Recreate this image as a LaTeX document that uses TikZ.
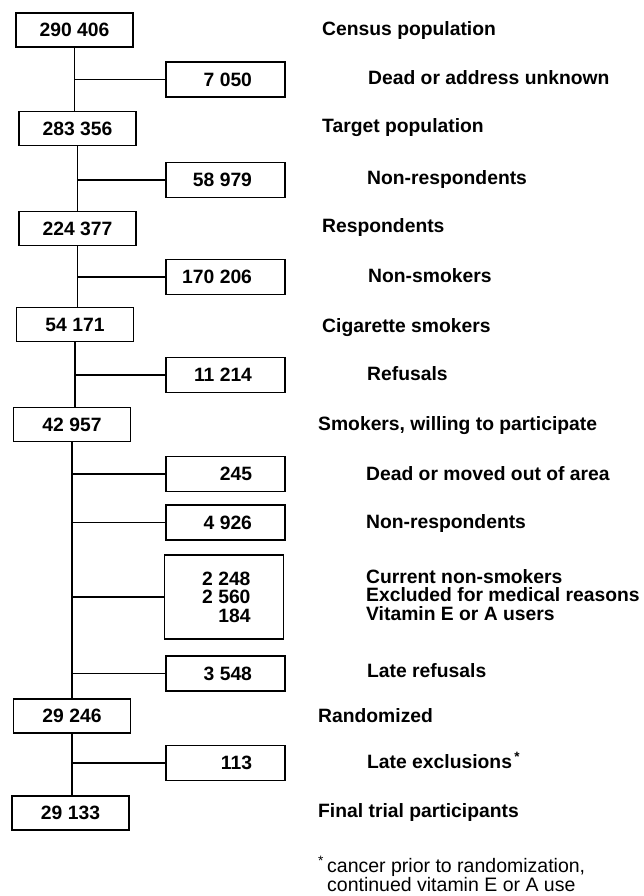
\documentclass[tikz,border=0pt]{standalone}
\usepackage{fontspec}
\setmainfont{Liberation Sans}
\newcommand{\flowfont}{\fontsize{19.3}{18.5}\selectfont}
\newcommand{\rnum}[1]{\makebox[53pt][r]{#1}}
\tikzset{
  mainbox/.style={draw, line width=1.8pt, minimum width=117pt, minimum height=34pt, inner sep=0pt, font=\flowfont\bfseries},
  sidebox/.style={draw, line width=1.8pt, minimum width=119pt, minimum height=35pt, inner sep=0pt, font=\flowfont\bfseries},
  lab/.style={anchor=mid west, inner sep=0pt, yshift=-3pt, font=\flowfont\bfseries},
  link/.style={line width=1.8pt}
}
\begin{document}
\begin{tikzpicture}[x=1pt,y=-1pt]
    \useasboundingbox (0,0) rectangle (643,896);

    % hoofdkolom
    \node[mainbox] (n1) at (74.5,30) {290 406};
    \node[mainbox] (n2) at (77.5,128.5) {283 356};
    \node[mainbox] (n3) at (77.5,228.5) {224 377};
    \node[mainbox] (n4) at (75,324.5) {54 171};
    \node[mainbox] (n5) at (72,424.5) {42 957};
    \node[mainbox] (n6) at (72,716) {29 246};
    \node[mainbox] (n7) at (70.5,813) {29 133};

    % uitvallers
    \node[sidebox] (s1) at (225.5,79.5) {\rnum{7 050}};
    \node[sidebox] (s2) at (225.5,180) {\rnum{58 979}};
    \node[sidebox] (s3) at (225.5,277) {\rnum{170 206}};
    \node[sidebox] (s4) at (225.5,375) {\rnum{11 214}};
    \node[sidebox] (s5) at (225.5,474) {\rnum{245}};
    \node[sidebox] (s6) at (225.5,522.5) {\rnum{4 926}};
    \node[sidebox, minimum height=84pt, align=center] (s7) at (224,597) {\rnum{2 248}\\\rnum{2 560}\\\rnum{184}};
    \node[sidebox] (s8) at (225.5,673.5) {\rnum{3 548}};
    \node[sidebox] (s9) at (225.5,763) {\rnum{113}};

    % verbindingen
    \draw[link] (n1.south) -- (n1.south |- n2.north);
    \draw[link] (n2.south) -- (n2.south |- n3.north);
    \draw[link] (n3.south) -- (n3.south |- n4.north);
    \draw[link] (n4.south) -- (n4.south |- n5.north);
    \draw[link] (n5.south) -- (n5.south |- n6.north);
    \draw[link] (n6.south) -- (n6.south |- n7.north);
    \draw[link] (n1.south |- s1.west) -- (s1.west);
    \draw[link] (n2.south |- s2.west) -- (s2.west);
    \draw[link] (n3.south |- s3.west) -- (s3.west);
    \draw[link] (n4.south |- s4.west) -- (s4.west);
    \draw[link] (n5.south |- s5.west) -- (s5.west);
    \draw[link] (n5.south |- s6.west) -- (s6.west);
    \draw[link] (n5.south |- s7.west) -- (s7.west);
    \draw[link] (n5.south |- s8.west) -- (s8.west);
    \draw[link] (n6.south |- s9.west) -- (s9.west);

    % teksten
    \node[lab] (l1) at (322,30) {Census population};
    \node[lab] (ls1) at (368,79) {Dead or address unknown};
    \node[lab] (l2) at (322,127) {Target population};
    \node[lab] (ls2) at (367,179) {Non-respondents};
    \node[lab] (l3) at (322,227) {Respondents};
    \node[lab] (ls3) at (368,277) {Non-smokers};
    \node[lab] (l4) at (322,327) {Cigarette smokers};
    \node[lab] (ls4) at (367,375) {Refusals};
    \node[lab] (l5) at (318,425) {Smokers, willing to participate};
    \node[lab] (ls5) at (366,475) {Dead or moved out of area};
    \node[lab] (ls6) at (366,523) {Non-respondents};
    \node[lab, anchor=west, align=left] (ls7) at (366,592) {Current non-smokers\\Excluded for medical reasons\\Vitamin E or A users};
    \node[lab] (ls8) at (367,672) {Late refusals};
    \node[lab] (l6) at (318,717) {Randomized};
    \node[lab] (ls9) at (367,763) {Late exclusions\textsuperscript{\,*}};
    \node[lab] (l7) at (318,812) {Final trial participants};
    \node[anchor=west, inner sep=0pt, align=left, font=\fontsize{19.5}{18}\selectfont] (note) at (327,874)
        {\llap{\textsuperscript{*}\,}cancer prior to randomization,\\continued vitamin E or A use};
\end{tikzpicture}
\end{document}
